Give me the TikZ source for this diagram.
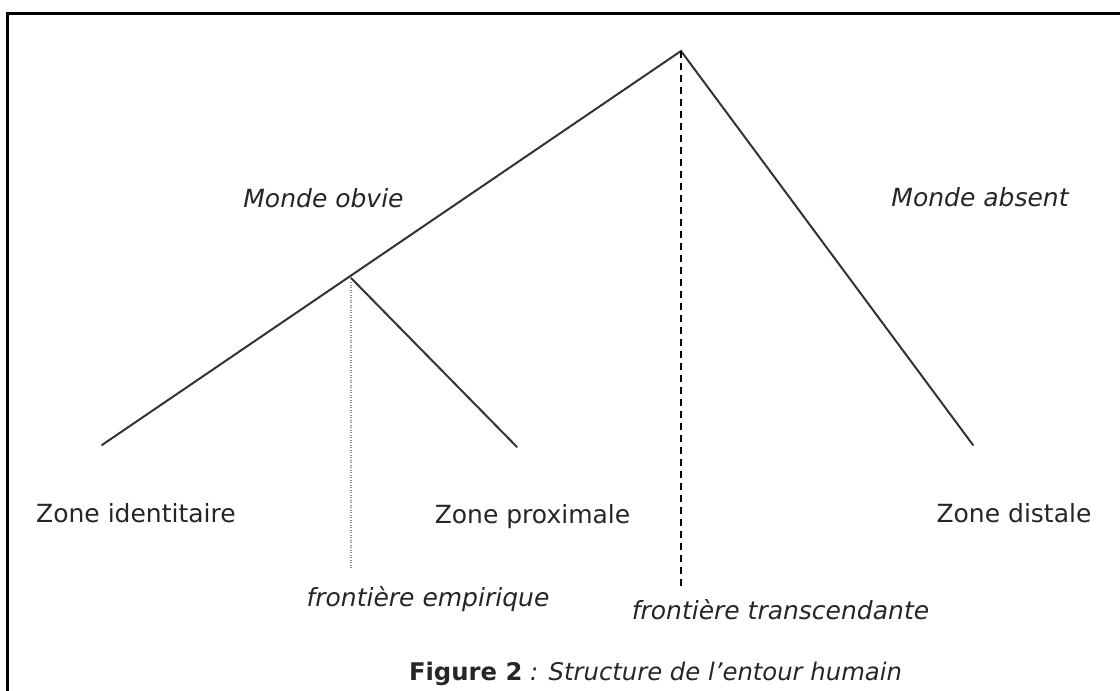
\documentclass[tikz,border=0pt]{standalone}
\usepackage{fontspec}
\setmainfont{DejaVu Sans}
\usetikzlibrary{positioning}
\tikzset{
  branch/.style={draw=black!80,line width=2pt,line cap=round},
  frontier/.style={draw=black,line width=1.8pt,dash pattern=on 7pt off 5pt},
  empiric/.style={draw=black!45,line width=1.2pt,dash pattern=on 1pt off 1.5pt},
  lbl/.style={anchor=base,inner sep=0pt,text=black!85,font=\fontsize{25}{30}\selectfont},
  ilbl/.style={lbl,font=\fontsize{25}{30}\selectfont\itshape}
}

\begin{document}
\begin{tikzpicture}[x=1pt,y=-1pt]
\useasboundingbox (0,0) rectangle (1120,691);
\draw[line width=3pt] (7,691) -- (7,13) -- (1120,13);

\coordinate (top) at (681,51);
\coordinate (fork) at (351,278);
\coordinate (ident) at (102,445);
\coordinate (prox) at (517,447);
\coordinate (dist) at (973,445);
\coordinate (emp-end) at (351,569);
\coordinate (trans-end) at (681,587);

\draw[branch] (ident) -- (top) -- (dist);
\draw[branch] (fork) -- (prox);
\draw[frontier] (top) -- (trans-end);
\draw[empiric] ([yshift=-4pt]fork) -- (emp-end);

\node[ilbl] (obvie) at (323.5,207) {Monde obvie};
\node[ilbl] (absent) at (980,206) {Monde absent};
\node[lbl] (zid) at (136,522) {Zone identitaire};
\node[lbl] (zprox) at (532.5,523) {Zone proximale};
\node[lbl] (zdist) at (1014,522) {Zone distale};
\node[ilbl] (femp) at (428,606) {frontière empirique};
\node[ilbl] (ftrans) at (780.5,619) {frontière transcendante};
\node[lbl,font=\fontsize{24.3}{30}\selectfont] (caption) at (655.5,680) {\textbf{Figure 2} \textit{: Structure de l’entour humain}};
\end{tikzpicture}
\end{document}
